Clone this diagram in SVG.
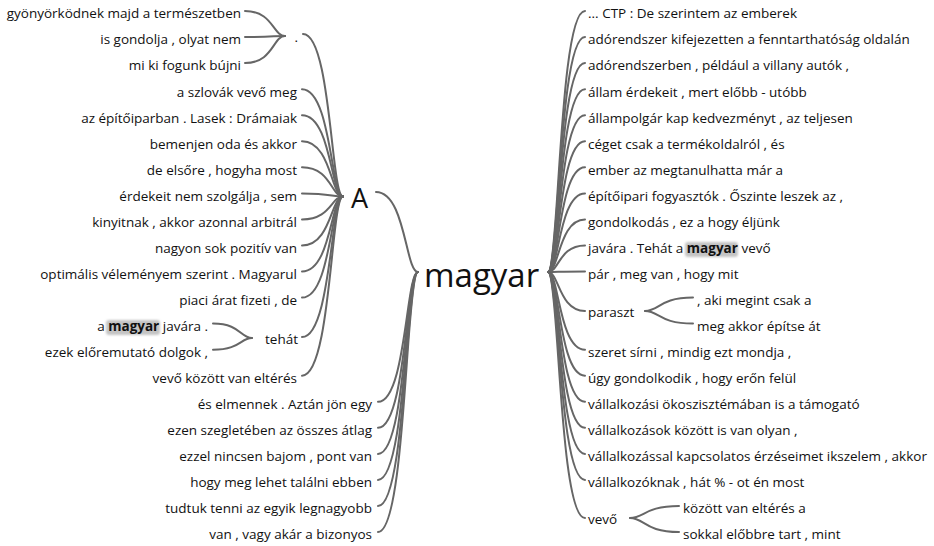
<svg xmlns="http://www.w3.org/2000/svg" width="934" height="546" viewBox="0 0 934 546">
  <defs>
    <style>
      .t { font-family: "Open Sans", "Noto Sans", "DejaVu Sans", sans-serif; font-size: 13.5px; fill: #111; }
      .e { text-anchor: end; }
      .b { font-weight: bold; }
      .lk { fill: none; stroke: #666; stroke-width: 2; stroke-linecap: round; }
      .hl { fill: #c4c4c4; filter: url(#soft); }
    </style>
    <filter id="soft" x="-20%" y="-40%" width="140%" height="180%">
      <feGaussianBlur stdDeviation="1.3"/>
    </filter>
  </defs>
  <rect width="934" height="546" fill="#fff"/>

  <!-- connectors -->
  <g id="links" class="lk">
    <!-- magyar (left) to A and its direct leaves -->
    <path d="M376,192 C405.4,192 405.4,272 418,272"/>
    <path d="M378,401.8 C406,401.8 406,272 418,272"/>
    <path d="M378,427.8 C406,427.8 406,272 418,272"/>
    <path d="M378,453.9 C406,453.9 406,272 418,272"/>
    <path d="M378,479.9 C406,479.9 406,272 418,272"/>
    <path d="M378,506 C406,506 406,272 418,272"/>
    <path d="M378,532 C406,532 406,272 418,272"/>
    <!-- A to its children -->
    <path d="M303,34 C331,34 331,196.5 343,196.5"/>
    <path d="M302,89.2 C331,89.2 331,196.5 343,196.5"/>
    <path d="M302,115.2 C331,115.2 331,196.5 343,196.5"/>
    <path d="M302,141.3 C331,141.3 331,196.5 343,196.5"/>
    <path d="M302,167.3 C331,167.3 331,196.5 343,196.5"/>
    <path d="M302,193.4 C331,193.4 331,196.5 343,196.5"/>
    <path d="M302,219.4 C331,219.4 331,196.5 343,196.5"/>
    <path d="M302,245.5 C331,245.5 331,196.5 343,196.5"/>
    <path d="M302,271.5 C331,271.5 331,196.5 343,196.5"/>
    <path d="M302,297.6 C331,297.6 331,196.5 343,196.5"/>
    <path d="M302,337 C331,337 331,196.5 343,196.5"/>
    <path d="M302,375.7 C331,375.7 331,196.5 343,196.5"/>
    <!-- "." to its leaves -->
    <path d="M245,11 C273,11 273,36 285,36"/>
    <path d="M245,37 C273,37 273,36 285,36"/>
    <path d="M245,63.1 C273,63.1 273,36 285,36"/>
    <!-- tehát to its leaves -->
    <path d="M213,323.6 C240.3,323.6 240.3,338 252,338"/>
    <path d="M213,349.7 C240.3,349.7 240.3,338 252,338"/>
    <!-- magyar (right) to its children -->
    <path d="M548,272 C559,272 559,11 585,11"/>
    <path d="M548,272 C559,272 559,37 585,37"/>
    <path d="M548,272 C559,272 559,63.1 585,63.1"/>
    <path d="M548,272 C559,272 559,89.2 585,89.2"/>
    <path d="M548,272 C559,272 559,115.2 585,115.2"/>
    <path d="M548,272 C559,272 559,141.3 585,141.3"/>
    <path d="M548,272 C559,272 559,167.3 585,167.3"/>
    <path d="M548,272 C559,272 559,193.4 585,193.4"/>
    <path d="M548,272 C559,272 559,219.4 585,219.4"/>
    <path d="M548,272 C559,272 559,245.5 585,245.5"/>
    <path d="M548,272 C559,272 559,271.5 585,271.5"/>
    <path d="M548,272 C559,272 559,311 585,311"/>
    <path d="M548,272 C559,272 559,349.7 585,349.7"/>
    <path d="M548,272 C559,272 559,375.7 585,375.7"/>
    <path d="M548,272 C559,272 559,401.8 585,401.8"/>
    <path d="M548,272 C559,272 559,427.8 585,427.8"/>
    <path d="M548,272 C559,272 559,453.9 585,453.9"/>
    <path d="M548,272 C559,272 559,479.9 585,479.9"/>
    <path d="M548,272 C559,272 559,518 585,518"/>
    <!-- paraszt to its leaves -->
    <path d="M645,311 C659.4,311 659.4,297.6 693,297.6"/>
    <path d="M645,311 C659.4,311 659.4,323.6 693,323.6"/>
    <!-- vevő to its leaves -->
    <path d="M630,518 C644.7,518 644.7,506 679,506"/>
    <path d="M630,518 C644.7,518 644.7,532 679,532"/>
  </g>

  <!-- root -->
  <g id="root">
    <text class="t" x="424" y="287" style="font-size:33px">magyar</text>
  </g>

  <!-- left branch -->
  <g id="node-A">
    <text class="t" x="351" y="208" style="font-size:27px">A</text>
  </g>
  <g id="node-dot">
    <text class="t e" x="298" y="42">.</text>
  </g>
  <g id="node-tehat">
    <text class="t e" x="298" y="344">tehát</text>
  </g>
  <g id="left-leaves">
    <text class="t e" x="241" y="18.3">gyönyörködnek majd a természetben</text>
    <text class="t e" x="241" y="44.4">is gondolja , olyat nem</text>
    <text class="t e" x="241" y="70.4">mi ki fogunk bújni</text>
    <text class="t e" x="297" y="96.5">a szlovák vevő meg</text>
    <text class="t e" x="297" y="122.5">az építőiparban . Lasek : Drámaiak</text>
    <text class="t e" x="297" y="148.6">bemenjen oda és akkor</text>
    <text class="t e" x="297" y="174.6">de elsőre , hogyha most</text>
    <text class="t e" x="297" y="200.7">érdekeit nem szolgálja , sem</text>
    <text class="t e" x="297" y="226.7">kinyitnak , akkor azonnal arbitrál</text>
    <text class="t e" x="297" y="252.8">nagyon sok pozitív van</text>
    <text class="t e" x="297" y="278.8">optimális véleményem szerint . Magyarul</text>
    <text class="t e" x="297" y="304.9">piaci árat fizeti , de</text>
    <rect class="hl" x="106" y="320" width="54" height="15" rx="3"/>
    <text class="t e" x="208" y="330.9">a <tspan class="b">magyar</tspan> javára .</text>
    <text class="t e" x="208" y="357">ezek előremutató dolgok ,</text>
    <text class="t e" x="297" y="383">vevő között van eltérés</text>
    <text class="t e" x="372" y="409.1">és elmennek . Aztán jön egy</text>
    <text class="t e" x="372" y="435.1">ezen szegletében az összes átlag</text>
    <text class="t e" x="372" y="461.2">ezzel nincsen bajom , pont van</text>
    <text class="t e" x="372" y="487.2">hogy meg lehet találni ebben</text>
    <text class="t e" x="372" y="513.3">tudtuk tenni az egyik legnagyobb</text>
    <text class="t e" x="372" y="539.3">van , vagy akár a bizonyos</text>
  </g>

  <!-- right branch -->
  <g id="node-paraszt">
    <text class="t" x="588" y="317">paraszt</text>
  </g>
  <g id="node-vevo">
    <text class="t" x="588" y="524">vevő</text>
  </g>
  <g id="right-leaves">
    <text class="t" x="588" y="18.3">... CTP : De szerintem az emberek</text>
    <text class="t" x="588" y="44.4">adórendszer kifejezetten a fenntarthatóság oldalán</text>
    <text class="t" x="588" y="70.4">adórendszerben , például a villany autók ,</text>
    <text class="t" x="588" y="96.5">állam érdekeit , mert előbb - utóbb</text>
    <text class="t" x="588" y="122.5">állampolgár kap kedvezményt , az teljesen</text>
    <text class="t" x="588" y="148.6">céget csak a termékoldalról , és</text>
    <text class="t" x="588" y="174.6">ember az megtanulhatta már a</text>
    <text class="t" x="588" y="200.7">építőipari fogyasztók . Őszinte leszek az ,</text>
    <text class="t" x="588" y="226.7">gondolkodás , ez a hogy éljünk</text>
    <rect class="hl" x="685" y="242" width="53" height="15" rx="3"/>
    <text class="t" x="588" y="252.8">javára . Tehát a <tspan class="b">magyar</tspan> vevő</text>
    <text class="t" x="588" y="278.8">pár , meg van , hogy mit</text>
    <text class="t" x="697" y="304.9">, aki megint csak a</text>
    <text class="t" x="697" y="330.9">meg akkor építse át</text>
    <text class="t" x="588" y="357">szeret sírni , mindig ezt mondja ,</text>
    <text class="t" x="588" y="383">úgy gondolkodik , hogy erőn felül</text>
    <text class="t" x="588" y="409.1">vállalkozási ökoszisztémában is a támogató</text>
    <text class="t" x="588" y="435.1">vállalkozások között is van olyan ,</text>
    <text class="t" x="588" y="461.2">vállalkozással kapcsolatos érzéseimet ikszelem , akkor</text>
    <text class="t" x="588" y="487.2">vállalkozóknak , hát % - ot én most</text>
    <text class="t" x="683" y="513.3">között van eltérés a</text>
    <text class="t" x="683" y="539.3">sokkal előbbre tart , mint</text>
  </g>
</svg>
